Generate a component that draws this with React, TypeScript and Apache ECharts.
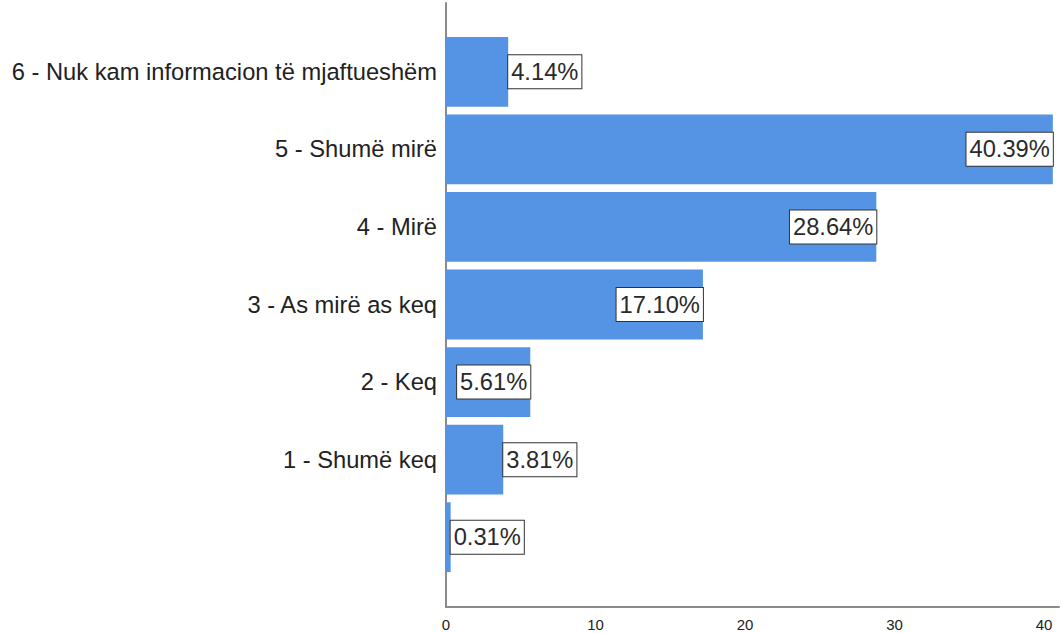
import React, { useEffect, useRef } from "react";
import * as echarts from "echarts";

const categories = [
  "6 - Nuk kam informacion të mjaftueshëm",
  "5 - Shumë mirë",
  "4 - Mirë",
  "3 - As mirë as keq",
  "2 - Keq",
  "1 - Shumë keq",
  "",
];
const percentages = [4.14, 40.39, 28.64, 17.1, 5.61, 3.81, 0.31];
const xTicks = [0, 10, 20, 30, 40];

const FONT = "'Liberation Sans', Arial, sans-serif";

export default function App() {
  const ref = useRef<HTMLDivElement>(null);
  useEffect(() => {
    if (!ref.current) return;
    const chart = echarts.init(ref.current, null, { renderer: "svg" });
    const labelStyle = {
      show: true,
      formatter: (p: any) => p.value.toFixed(2) + "%",
      fontSize: 23.7,
      fontFamily: FONT,
      color: "#2a2a2a",
      backgroundColor: "#fff",
      borderColor: "#333",
      borderWidth: 1,
      padding: [5, 3, 4, 3],
      distance: 0,
    };
    chart.setOption({
      animation: false,
      backgroundColor: "#fff",
      grid: [
        { left: 446, right: 0, top: 3, bottom: 26 },
        { left: 446, right: 0, top: 33, height: 543 },
      ],
      xAxis: [
        {
          gridIndex: 0,
          type: "value",
          min: 0,
          max: 41,
          interval: 10,
          axisLine: { show: true, lineStyle: { color: "#8a8a8a", width: 2 } },
          axisTick: { show: false },
          splitLine: { show: false },
          axisLabel: {
            fontSize: 15,
            fontFamily: FONT,
            color: "#222",
            margin: 10,
            formatter: (v: number) => (xTicks.includes(v) ? String(v) : ""),
          },
        },
        {
          gridIndex: 1,
          type: "value",
          min: 0,
          max: 41,
          show: false,
        },
      ],
      yAxis: [
        {
          gridIndex: 0,
          type: "value",
          min: 0,
          max: 1,
          axisLine: { show: true, lineStyle: { color: "#8a8a8a", width: 2 } },
          axisTick: { show: false },
          axisLabel: { show: false },
          splitLine: { show: false },
        },
        {
          gridIndex: 1,
          type: "category",
          data: categories,
          inverse: true,
          axisLine: { show: false },
          axisTick: { show: false },
          axisLabel: {
            fontSize: 23.7,
            fontFamily: FONT,
            color: "#222",
            margin: 9,
          },
        },
      ],
      series: [
        {
          type: "bar",
          xAxisIndex: 1,
          yAxisIndex: 1,
          barCategoryGap: "10%",
          itemStyle: { color: "#5594e4" },
          data: percentages.map((v) => ({
            value: v,
            label: { ...labelStyle, position: v >= 5 ? "insideRight" : "right" },
          })),
        },
      ],
    });
    return () => chart.dispose();
  }, []);
  return (
    <div
      ref={ref}
      style={{ position: "absolute", left: 0, top: 0, width: 1062, height: 633 }}
    />
  );
}
